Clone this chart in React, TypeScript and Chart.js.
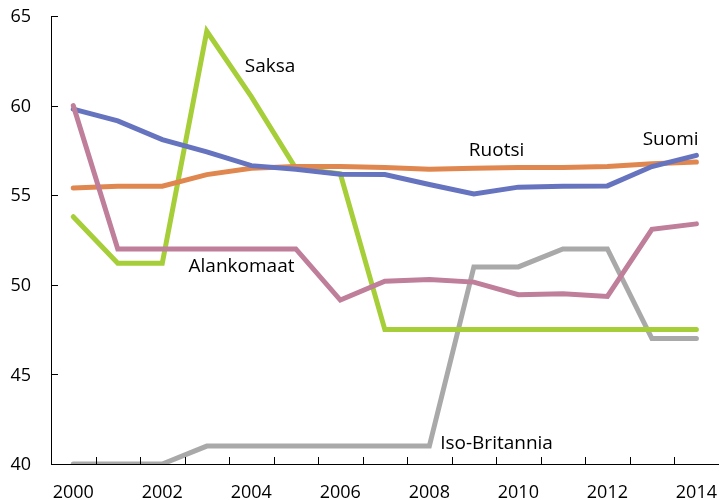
import React, { useEffect, useRef } from "react";
import { Chart, registerables } from "chart.js";

Chart.register(...registerables);

const years = ["2000","2001","2002","2003","2004","2005","2006","2007","2008","2009","2010","2011","2012","2013","2014"];
const alankomaat = [60.0, 52.0, 52.0, 52.0, 52.0, 52.0, 49.15, 50.2, 50.3, 50.15, 49.45, 49.5, 49.35, 53.1, 53.4];
const suomi = [59.8, 59.15, 58.1, 57.42, 56.65, 56.45, 56.17, 56.15, 55.6, 55.07, 55.45, 55.5, 55.52, 56.6, 57.22];
const ruotsi = [55.4, 55.5, 55.5, 56.15, 56.5, 56.6, 56.6, 56.55, 56.45, 56.5, 56.55, 56.55, 56.6, 56.75, 56.85];
const saksa = [53.8, 51.2, 51.2, 64.15, 60.5, 56.5, 56.2, 47.5, 47.5, 47.5, 47.5, 47.5, 47.5, 47.5, 47.5];
const isoBritannia = [40.0, 40.0, 40.0, 41.0, 41.0, 41.0, 41.0, 41.0, 41.0, 51.0, 51.0, 52.0, 52.0, 47.0, 47.0];
const yTicks = [40, 45, 50, 55, 60, 65];

const seriesNames = ["Alankomaat", "Suomi", "Ruotsi", "Saksa", "Iso-Britannia"];
const seriesColors = ["#bf7e99", "#6674bf", "#e0864f", "#a6ce39", "#a9a9a9"];

// label anchors: [text, position along year axis (0 = 2000), value]
const labelPlacements: [string, number, number][] = [
  ["Saksa", 4.42, 62.15],
  ["Ruotsi", 9.51, 57.47],
  ["Suomi", 13.42, 58.08],
  ["Alankomaat", 3.78, 50.99],
  ["Iso-Britannia", 9.51, 41.14],
];

const FONT = "'Open Sans', sans-serif";

export default function App() {
  const ref = useRef<HTMLCanvasElement | null>(null);
  useEffect(() => {
    document.body.style.margin = "0";
    const canvas = ref.current;
    if (!canvas) return;
    const values = [alankomaat, suomi, ruotsi, saksa, isoBritannia];

    const innerTicks = {
      id: "innerTicks",
      afterDraw(chart: any) {
        const ctx = chart.ctx;
        const x = chart.scales.x;
        const y = chart.scales.y;
        const area = chart.chartArea;
        ctx.save();
        ctx.strokeStyle = "#000";
        ctx.lineWidth = 1;
        ctx.beginPath();
        yTicks.forEach((v) => {
          const py = Math.round(y.getPixelForValue(v)) + 0.5;
          ctx.moveTo(area.left, py);
          ctx.lineTo(area.left + 7, py);
        });
        for (let i = 0; i < years.length - 1; i++) {
          const px = Math.round((x.getPixelForValue(i) + x.getPixelForValue(i + 1)) / 2) + 0.5;
          ctx.moveTo(px, area.bottom);
          ctx.lineTo(px, area.bottom - 7);
        }
        ctx.stroke();
        ctx.fillStyle = "#000";
        ctx.font = `18px ${FONT}`;
        ctx.textAlign = "right";
        ctx.textBaseline = "middle";
        yTicks.forEach((v) => {
          ctx.fillText(String(v), area.left - 20, y.getPixelForValue(v) + 1);
        });
        ctx.font = `19px ${FONT}`;
        ctx.textAlign = "center";
        const step = x.getPixelForValue(1) - x.getPixelForValue(0);
        labelPlacements.forEach(([t, xi, v]) => {
          const px = x.getPixelForValue(0) + step * xi;
          ctx.fillText(t, px, y.getPixelForValue(v));
        });
        ctx.restore();
      },
    };

    const chart = new Chart(canvas, {
      type: "line",
      data: {
        labels: years,
        datasets: seriesNames.map((n, i) => ({
          label: n,
          data: values[i],
          borderColor: seriesColors[i],
          backgroundColor: seriesColors[i],
          borderWidth: 5,
          pointRadius: 0,
          tension: 0,
          borderCapStyle: "round" as const,
          borderJoinStyle: "miter" as const,
        })),
      },
      options: {
        animation: false,
        responsive: false,
        layout: { padding: { top: 16, right: 0, left: 0, bottom: 0 } },
        plugins: { legend: { display: false }, tooltip: { enabled: false } },
        scales: {
          x: {
            type: "category",
            offset: true,
            grid: { display: false, offset: true },
            border: { display: true, color: "#000", width: 1 },
            ticks: {
              color: "#000",
              font: { family: FONT, size: 18 },
              padding: 10,
              maxRotation: 0,
              autoSkip: false,
              callback: (_v: any, i: number) => (i % 2 === 0 ? years[i] : ""),
            },
            afterFit: (s: any) => { s.height = 36; },
          },
          y: {
            min: 40,
            max: 65,
            grid: { display: false },
            border: { display: true, color: "#000", width: 1 },
            ticks: { stepSize: 5, display: false },
            afterFit: (s: any) => { s.width = 51; },
          },
        },
      },
      plugins: [innerTicks],
    });
    return () => chart.destroy();
  }, []);
  return (
    <div style={{ width: 727, height: 500 }}>
      <canvas ref={ref} width={727} height={500} style={{ width: 727, height: 500 }} />
    </div>
  );
}
